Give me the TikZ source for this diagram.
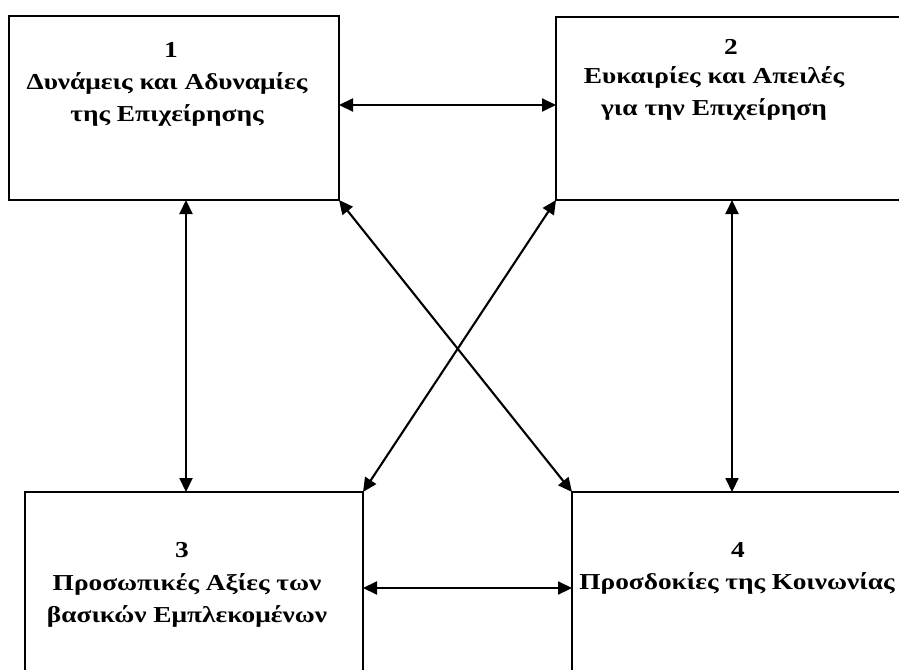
\documentclass[tikz,border=0pt]{standalone}
\usepackage{fontspec}
\setmainfont[FakeStretch=1.2]{Liberation Serif}
\usetikzlibrary{arrows.meta}

\begin{document}
\begin{tikzpicture}[x=1pt,y=-1pt,
  box/.style={draw,line width=2.5pt,inner sep=0pt,outer sep=0pt,anchor=north west},
  lbl/.style={font=\bfseries\fontsize{22.8}{32}\selectfont,align=center,inner sep=0pt},
  both/.style={{Triangle[length=14pt,width=13pt]}-{Triangle[length=14pt,width=13pt]},line width=2.1pt}]
  \useasboundingbox (0,0) rectangle (899,669);
  \clip (0,0) rectangle (899,669);
  % the four boxes
  \node[box,minimum width=330pt,minimum height=184pt] (b1) at (9,16) {};
  \node[box,minimum width=352pt,minimum height=183pt] (b2) at (556,17) {};
  \node[box,minimum width=338pt,minimum height=192pt] (b3) at (25,492) {};
  \node[box,minimum width=338pt,minimum height=192pt] (b4) at (572,492) {};
  % numbers and titles
  \node[lbl] (n1) at (171,50) {1};
  \node[lbl] (t1) at (167,99) {Δυνάμεις και Αδυναμίες\\της Επιχείρησης};
  \node[lbl] (n2) at (731,47) {2};
  \node[lbl] (t2) at (714,93) {Ευκαιρίες και Απειλές\\για την Επιχείρηση};
  \node[lbl] (n3) at (182,550) {3};
  \node[lbl] (t3) at (187,600) {Προσωπικές Αξίες των\\βασικών Εμπλεκομένων};
  \node[lbl] (n4) at (738,550) {4};
  \node[lbl] (t4) at (737,583) {Προσδοκίες της Κοινωνίας};
  % connectors
  \draw[both] ([yshift=3pt]b1.east) -- ([yshift=3pt]b1.east -| b2.west);
  \draw[both] (b3.east) -- (b3.east -| b4.west);
  \draw[both] ([xshift=12pt]b1.south) -- ([xshift=12pt]b1.south |- b3.north);
  \draw[both] (b2.south) -- (b2.south |- b4.north);
  \draw[both] (b1.south east) -- (b4.north west);
  \draw[both] (b2.south west) -- (b3.north east);
\end{tikzpicture}
\end{document}
